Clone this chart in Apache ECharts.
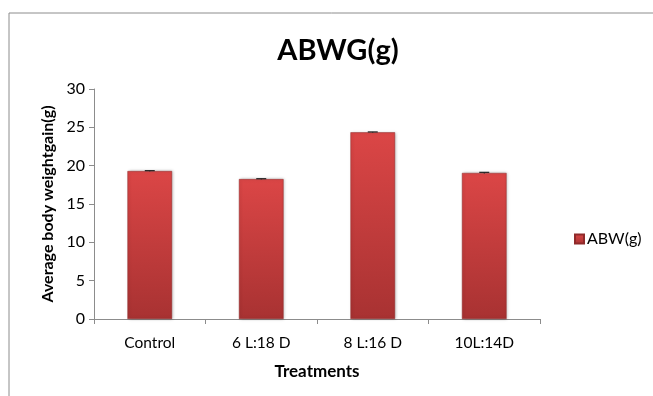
<!DOCTYPE html>
<html>
<head>
<meta charset="utf-8">
<script src="https://cdn.jsdelivr.net/npm/echarts@6/dist/echarts.min.js"></script>
<style>
  html, body { margin: 0; padding: 0; background: #fff; }
  #chart { width: 653px; height: 396px; }
</style>
</head>
<body>
<div id="chart"></div>
<script>
// 数据
const categories = ['Control', '6 L:18 D', '8 L:16 D', '10L:14D'];
const abwValues = [19.3, 18.25, 24.35, 19.05];
const errValues = [0.05, 0.05, 0.05, 0.08];
const yTicks = [0, 5, 10, 15, 20, 25, 30];

const font = 'Lato, "Open Sans", sans-serif';

const myChart = echarts.init(document.querySelector('#chart'));

const barColor = new echarts.graphic.LinearGradient(0, 0, 0, 1, [
  { offset: 0, color: '#DB4646' },
  { offset: 1, color: '#A83232' },
]);

const option = {
  animation: false,
  graphic: [
    {
      type: 'rect',
      shape: { x: 9, y: 13, width: 660, height: 400 },
      style: { fill: 'none', stroke: '#8c8c8c', lineWidth: 1 },
      silent: true,
    },
  ],
  title: {
    text: 'ABWG(g)',
    left: 333,
    top: 31,
    textAlign: 'center',
    textStyle: { fontFamily: font, fontSize: 29, fontWeight: 'bold', color: '#000' },
  },
  legend: {
    left: 569,
    top: 226,
    itemWidth: 9,
    itemHeight: 9,
    itemGap: 4,
    icon: 'rect',
    data: ['ABW(g)'],
    textStyle: { fontFamily: font, fontSize: 16, color: '#000', padding: [0, 0, 0, -2] },
  },
  grid: {
    left: 94,
    right: 113,
    top: 89,
    bottom: 77,
  },
  xAxis: {
    type: 'category',
    data: categories,
    name: 'Treatments',
    nameLocation: 'middle',
    nameGap: 44,
    nameTextStyle: { fontFamily: font, fontSize: 17, fontWeight: 'bold', color: '#000' },
    axisLine: { lineStyle: { color: '#8c8c8c' } },
    axisTick: { show: true, length: 5, alignWithLabel: false, lineStyle: { color: '#8c8c8c' } },
    axisLabel: { fontFamily: font, fontSize: 15.5, color: '#000', margin: 16 },
  },
  yAxis: {
    type: 'value',
    min: 0,
    max: 30,
    interval: 5,
    name: 'Average body weightgain(g)',
    nameLocation: 'middle',
    nameGap: 37,
    nameTextStyle: { fontFamily: font, fontSize: 16, fontWeight: 'bold', color: '#000' },
    axisLine: { show: true, lineStyle: { color: '#8c8c8c' } },
    axisTick: { show: true, length: 5, lineStyle: { color: '#8c8c8c' } },
    axisLabel: {
      fontFamily: font,
      fontSize: 16,
      color: '#000',
      margin: 9,
      formatter: v => (yTicks.includes(v) ? String(v) : ''),
    },
    splitLine: { show: false },
  },
  series: [
    {
      name: 'ABW(g)',
      type: 'bar',
      barWidth: '40%',
      itemStyle: {
        color: barColor,
        borderColor: '#8f2a2a',
        borderWidth: 0.5,
        shadowColor: 'rgba(0,0,0,0.25)',
        shadowBlur: 3,
        shadowOffsetX: 1,
      },
      data: abwValues,
    },
    {
      type: 'custom',
      name: 'err',
      silent: true,
      renderItem: (params, api) => {
        const i = api.value(0);
        const v = api.value(1);
        const e = api.value(2);
        const top = api.coord([i, v + e]);
        const bot = api.coord([i, v - e]);
        const hw = 5;
        return {
          type: 'group',
          children: [
            { type: 'line', shape: { x1: top[0] - hw, y1: top[1], x2: top[0] + hw, y2: top[1] }, style: { stroke: '#222', lineWidth: 1.2 } },
            { type: 'line', shape: { x1: top[0], y1: top[1], x2: bot[0], y2: bot[1] }, style: { stroke: '#222', lineWidth: 1 } },
          ],
        };
      },
      data: abwValues.map((v, i) => [i, v, errValues[i]]),
      z: 10,
    },
  ],
};

myChart.setOption(option);
</script>
</body>
</html>
